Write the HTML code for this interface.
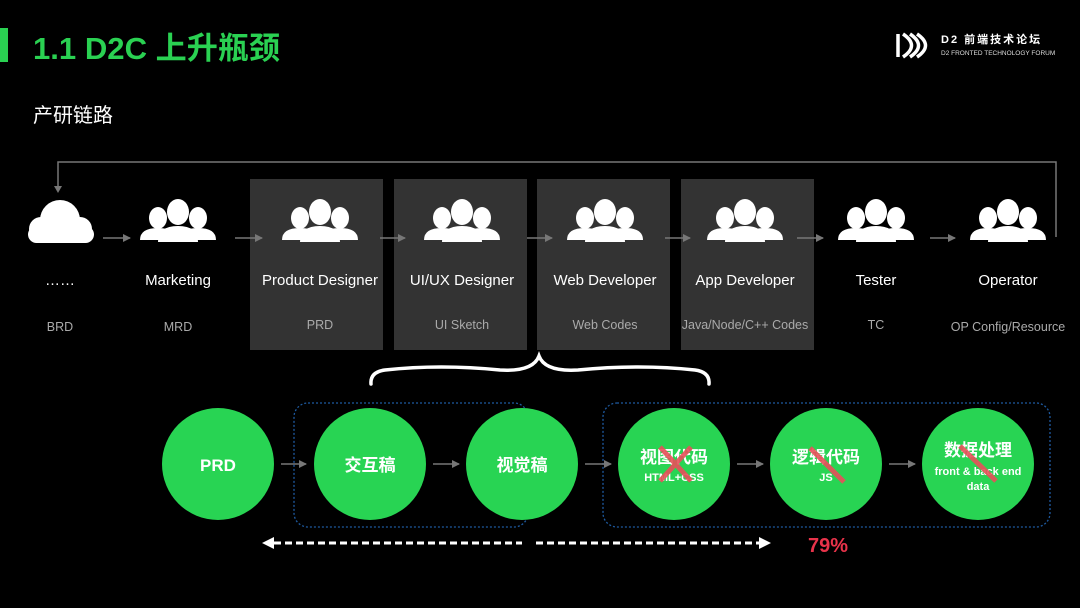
<!DOCTYPE html>
<html><head><meta charset="utf-8"><style>
html,body{margin:0;padding:0;background:#000;}
svg{display:block;font-family:"Liberation Sans","Noto Sans CJK SC",sans-serif;}
</style></head><body>
<svg width="1080" height="608" viewBox="0 0 1080 608" xmlns="http://www.w3.org/2000/svg">
<defs>
<g id="ppl" fill="#fff">
 <ellipse cx="-20" cy="-14" rx="9" ry="11"/>
 <path d="M-38 8 Q-38 -4 -20 -4 Q-2 -4 -2 8 Z"/>
 <ellipse cx="20" cy="-14" rx="9" ry="11"/>
 <path d="M2 8 Q2 -4 20 -4 Q38 -4 38 8 Z"/>
 <ellipse cx="0" cy="-20" rx="11" ry="13"/>
 <path d="M-20 10 Q-20 -6 0 -6 Q20 -6 20 10 Z"/>
</g>
<marker id="ah" markerWidth="8" markerHeight="8" refX="7" refY="4" orient="auto" markerUnits="userSpaceOnUse"><path d="M0 0 L8 4 L0 8Z" fill="#777"/></marker>
</defs>
<rect x="0" y="28" width="8" height="34" fill="#2ad152"/>
<text x="33" y="59" font-size="31" font-weight="bold" fill="#2ad152" textLength="247" lengthAdjust="spacingAndGlyphs">1.1 D2C 上升瓶颈</text>
<g fill="none" stroke="#fff" stroke-width="3.5">
 <path d="M898 34 V57"/><path d="M903 34 Q920 45.5 903 57"/><path d="M910 34 Q927 45.5 910 57"/><path d="M917 34 Q934 45.5 917 57"/>
</g>
<text x="941" y="43" font-size="11" font-weight="bold" fill="#fff" letter-spacing="2">D2 前端技术论坛</text>
<text x="941" y="55" font-size="6.5" fill="#ddd">D2 FRONTED TECHNOLOGY FORUM</text>
<text x="33" y="122" font-size="20" fill="#fff">产研链路</text>
<path d="M58 190 V162 H1056 V237" fill="none" stroke="#777" stroke-width="1.5"/>
<path d="M54 186 L58 193 L62 186Z" fill="#777"/>
<g fill="#333">
 <rect x="250" y="179" width="133" height="171"/><rect x="394" y="179" width="133" height="171"/>
 <rect x="537" y="179" width="133" height="171"/><rect x="681" y="179" width="133" height="171"/>
</g>
<g fill="#fff">
 <circle cx="60" cy="220" r="20"/><circle cx="41" cy="229" r="12"/><circle cx="80" cy="229" r="12"/>
 <rect x="28" y="226" width="66" height="17" rx="8.5"/>
</g>
<use href="#ppl" x="178" y="232"/><use href="#ppl" x="320" y="232"/><use href="#ppl" x="462" y="232"/>
<use href="#ppl" x="605" y="232"/><use href="#ppl" x="745" y="232"/><use href="#ppl" x="876" y="232"/>
<use href="#ppl" x="1008" y="232"/>
<g stroke="#777" stroke-width="1.5" marker-end="url(#ah)">
 <line x1="103" y1="238" x2="130" y2="238"/><line x1="235" y1="238" x2="262" y2="238"/>
 <line x1="380" y1="238" x2="405" y2="238"/><line x1="527" y1="238" x2="552" y2="238"/>
 <line x1="665" y1="238" x2="690" y2="238"/><line x1="797" y1="238" x2="823" y2="238"/>
 <line x1="930" y1="238" x2="955" y2="238"/>
</g>
<g font-size="15" fill="#fff" text-anchor="middle">
 <text x="60" y="285">……</text><text x="178" y="285">Marketing</text><text x="320" y="285">Product Designer</text>
 <text x="462" y="285">UI/UX Designer</text><text x="605" y="285">Web Developer</text><text x="745" y="285">App Developer</text>
 <text x="876" y="285">Tester</text><text x="1008" y="285">Operator</text>
</g>
<g font-size="12.5" fill="#aaa" text-anchor="middle">
 <text x="60" y="331">BRD</text><text x="178" y="331">MRD</text><text x="320" y="329">PRD</text>
 <text x="462" y="329">UI Sketch</text><text x="605" y="329">Web Codes</text><text x="745" y="329">Java/Node/C++ Codes</text>
 <text x="876" y="329">TC</text><text x="1008" y="331">OP Config/Resource</text>
</g>
<path d="M371 384 Q370 372 385 370 Q440 364 500 370 Q533 372 539 356 Q545 372 578 370 Q640 364 695 370 Q710 372 709 384" fill="none" stroke="#fff" stroke-width="3.5" stroke-linecap="round"/>
<g fill="none" stroke="#1e5aa0" stroke-width="1.3" stroke-dasharray="2 2">
 <rect x="294" y="403" width="234" height="124" rx="14"/><rect x="603" y="403" width="447" height="124" rx="14"/>
</g>
<g fill="#28d453">
 <circle cx="218" cy="464" r="56"/><circle cx="370" cy="464" r="56"/><circle cx="522" cy="464" r="56"/>
 <circle cx="674" cy="464" r="56"/><circle cx="826" cy="464" r="56"/><circle cx="978" cy="464" r="56"/>
</g>
<g stroke="#777" stroke-width="1.5" marker-end="url(#ah)">
 <line x1="281" y1="464" x2="306" y2="464"/><line x1="433" y1="464" x2="459" y2="464"/>
 <line x1="585" y1="464" x2="611" y2="464"/><line x1="737" y1="464" x2="763" y2="464"/>
 <line x1="889" y1="464" x2="915" y2="464"/>
</g>
<g fill="#fff" text-anchor="middle" font-weight="bold">
 <text x="218" y="471" font-size="17">PRD</text>
 <text x="370" y="471" font-size="17">交互稿</text>
 <text x="522" y="471" font-size="17">视觉稿</text>
 <text x="674" y="463" font-size="17">视图代码</text><text x="674" y="481" font-size="11">HTML+CSS</text>
 <text x="826" y="463" font-size="17">逻辑代码</text><text x="826" y="481" font-size="11">JS</text>
 <text x="978" y="456" font-size="17">数据处理</text><text x="978" y="475" font-size="11">front &amp; back end</text><text x="978" y="490" font-size="11">data</text>
</g>
<g stroke="#e8505a" stroke-width="5" opacity="0.9">
 <line x1="660" y1="447" x2="691" y2="481"/><line x1="691" y1="447" x2="660" y2="481"/>
 <line x1="810" y1="448" x2="844" y2="482"/>
 <line x1="960" y1="446" x2="996" y2="481"/>
</g>
<g stroke="#fff" stroke-width="3" stroke-dasharray="7 4">
 <line x1="274" y1="543" x2="522" y2="543"/><line x1="536" y1="543" x2="760" y2="543"/>
</g>
<path d="M262 543 L274 537 L274 549Z" fill="#fff"/>
<path d="M771 543 L759 537 L759 549Z" fill="#fff"/>
<text x="808" y="552" font-size="20" font-weight="bold" fill="#e8334a">79%</text>
</svg>
</body></html>
